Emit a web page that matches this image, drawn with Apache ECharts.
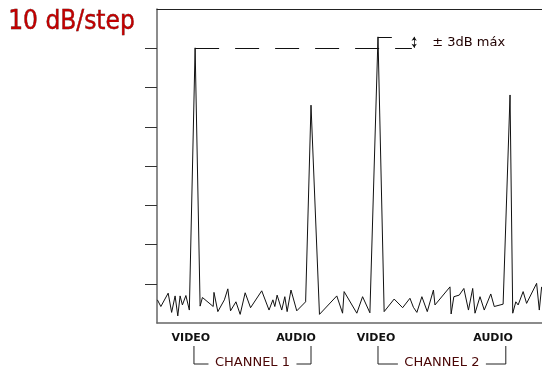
<!DOCTYPE html>
<html>
<head>
<meta charset="utf-8">
<script src="https://cdn.jsdelivr.net/npm/echarts@6/dist/echarts.min.js"></script>
<style>html,body{margin:0;padding:0;background:#fff}#c{width:542px;height:373px}</style>
</head>
<body>
<div id="c"></div>
<script>
// frequency position (arbitrary units, 0..100 across the plot)
var freq = [0.1,1.0,2.9,3.8,4.7,5.4,6.0,6.6,7.5,8.4,9.9,11.2,11.8,14.6,14.8,15.8,17.5,18.4,19.1,20.5,21.6,22.9,24.3,27.2,29.1,30.1,30.6,31.2,32.4,33.2,33.8,34.8,36.3,38.6,40.0,42.2,46.7,48.2,48.6,51.9,53.4,55.3,57.4,59.0,61.6,63.8,65.7,66.6,67.5,68.8,70.2,71.8,72.2,76.1,76.4,77.1,78.5,79.7,80.9,82.0,82.6,83.9,85.0,86.7,87.6,89.9,91.7,92.4,93.2,93.8,95.1,96.0,98.6,99.3,99.9];
// level in dB above the bottom of the screen (10 dB/step)
var level = [5.9,4.2,7.6,2.7,6.9,1.8,6.9,4.6,7.0,3.3,70.1,4.3,6.5,4.2,7.8,2.9,5.9,8.7,3.1,5.4,2.2,7.7,3.9,8.2,3.3,5.9,4.2,7.1,3.3,6.7,2.9,8.4,3.1,5.4,55.5,2.2,6.9,2.5,8.0,2.5,6.7,2.6,72.9,2.9,6.1,3.9,6.3,4.0,2.7,6.7,2.9,8.4,4.6,9.2,2.3,6.7,7.1,8.8,3.3,8.8,2.5,6.7,3.3,7.4,4.2,4.8,58.1,2.5,5.4,4.6,8.0,5.0,10.1,3.3,9.2];
var yTicks = [10,20,30,40,50,60,70];
var carrierNames = ["VIDEO","AUDIO","VIDEO","AUDIO"];
var carrierLabelPos = [8.8,36.1,56.9,87.3];
var channelNames = ["CHANNEL 1","CHANNEL 2"];
var channelSpan = [[9.6,40.0],[57.4,90.6]];
var refLevel = 70.1, refStart = 9.9, refEnd = 66.2;
var tolLevel = 72.9, tolStart = 57.4, tolEnd = 61.0, arrowX = 66.8;

var data = freq.map(function(f,i){return [f, level[i]];});
var chart = echarts.init(document.getElementById('c'), null, {renderer:'canvas'});
var font = '"DejaVu Sans", sans-serif';
chart.setOption({
  animation:false,
  grid:{left:157, right:0, top:9, bottom:50},
  xAxis:[{
    type:'value', min:0, max:100,
    axisLine:{show:true, lineStyle:{color:'#666', width:1.5}},
    axisTick:{show:false}, splitLine:{show:false},
    axisLabel:{show:true, customValues:carrierLabelPos, margin:10,
      fontFamily:font, fontWeight:'bold', fontSize:11, color:'#111',
      formatter:function(v){
        for (var i=0;i<carrierLabelPos.length;i++) if (Math.abs(carrierLabelPos[i]-v)<0.01) return carrierNames[i];
        return '';
      }}
  },{
    type:'value', min:0, max:100, position:'top',
    axisLine:{show:true, lineStyle:{color:'#222', width:1}},
    axisTick:{show:false}, splitLine:{show:false}, axisLabel:{show:false}
  }],
  yAxis:{
    type:'value', min:0, max:80, interval:10,
    axisLine:{show:true, lineStyle:{color:'#666', width:1.5}},
    axisTick:{show:true, customValues:yTicks, length:12, lineStyle:{color:'#333', width:1}},
    axisLabel:{show:false}, splitLine:{show:false}
  },
  series:[{
    type:'line', data:data, symbol:'none',
    lineStyle:{color:'#111', width:1},
    markLine:{
      silent:true, symbol:'none', label:{show:false}, animation:false,
      data:[
        [{coord:[refStart,refLevel], lineStyle:{type:[24,16], color:'#111', width:1}},{coord:[refEnd,refLevel]}],
        [{coord:[tolStart,tolLevel], lineStyle:{type:'solid', color:'#111', width:1}},{coord:[tolEnd,tolLevel]}],
        [{coord:[arrowX,tolLevel], symbol:'arrow', symbolSize:4, lineStyle:{type:'solid', color:'#111', width:0.8}},{coord:[arrowX,refLevel], symbol:'arrow', symbolSize:4}]
      ]
    }
  }]
});

var g = [];
g.push({type:'text', left:8, top:9, style:{text:'10 dB/step', font:'26px "DejaVu Sans Condensed", "DejaVu Sans", sans-serif', fill:'#c00000', stroke:'#3a0000', lineWidth:0.4}});
var tp = chart.convertToPixel({xAxisIndex:0, yAxisIndex:0}, [arrowX, (refLevel+tolLevel)/2]);
g.push({type:'text', x:tp[0]+18, y:tp[1], style:{text:'± 3dB máx', font:'13px '+font, fill:'#200000', verticalAlign:'middle'}});
var yTop = 346, yLine = 364, half = 44;
channelSpan.forEach(function(s,i){
  var x0 = chart.convertToPixel({xAxisIndex:0}, s[0]);
  var x1 = chart.convertToPixel({xAxisIndex:0}, s[1]);
  var cx = (x0+x1)/2;
  g.push({type:'polyline', shape:{points:[[x0,yTop],[x0,yLine],[cx-half,yLine]]}, style:{stroke:'#222', lineWidth:1, fill:null}});
  g.push({type:'polyline', shape:{points:[[cx+half,yLine],[x1,yLine],[x1,yTop]]}, style:{stroke:'#222', lineWidth:1, fill:null}});
  g.push({type:'text', x:cx, y:yLine-1, style:{text:channelNames[i], font:'13px '+font, fill:'#4a0606', align:'center', verticalAlign:'middle'}});
});
chart.setOption({graphic:g});
</script>
</body>
</html>
